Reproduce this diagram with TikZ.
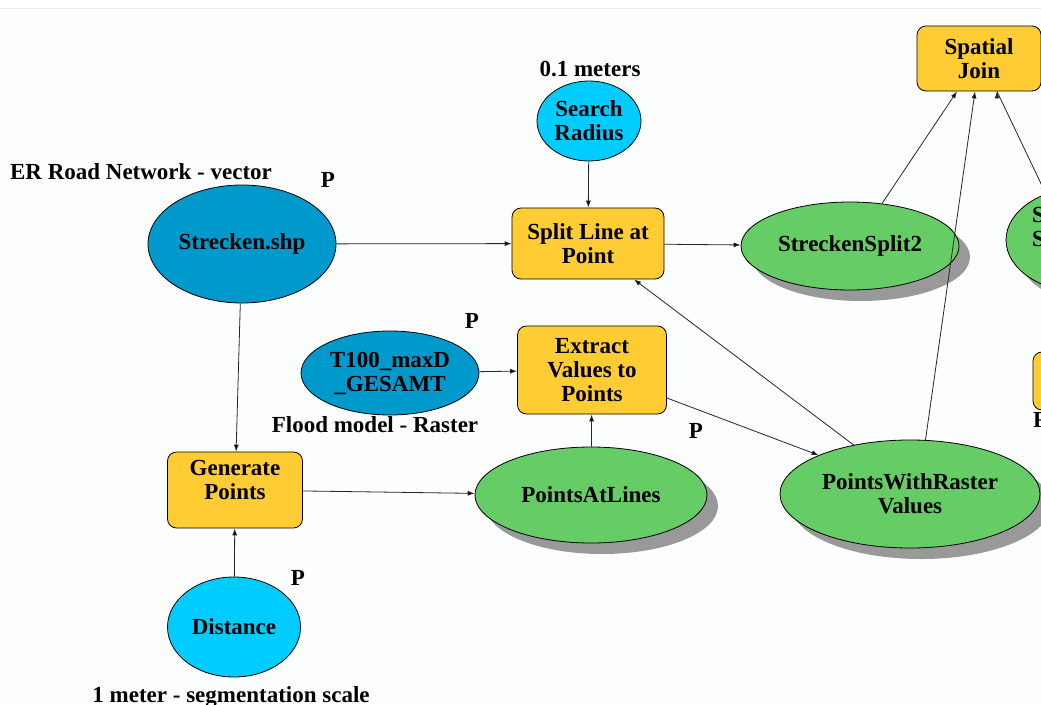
\documentclass[tikz,border=0pt]{standalone}
\usepackage{fontspec}
\setmainfont{Liberation Serif}
\usepackage{tikz}
\usetikzlibrary{positioning,shapes.geometric,shadows,arrows.meta}
\definecolor{toolfill}{RGB}{255,204,51}
\definecolor{datafill}{RGB}{0,153,204}
\definecolor{valuefill}{RGB}{0,204,255}
\definecolor{derivedfill}{RGB}{102,204,102}
\definecolor{shadowgray}{RGB}{153,153,153}
\definecolor{pagefill}{RGB}{252,253,253}
\definecolor{rulegray}{RGB}{230,236,240}
\tikzset{
  modelnode/.style = {draw=black, line width=0.8pt, align=center,
                      inner sep=0pt, font=\bfseries\fontsize{23}{24}\selectfont},
  tool/.style      = {modelnode, shape=rectangle, rounded corners=9pt,
                      fill=toolfill},
  dataset/.style   = {modelnode, shape=ellipse, fill=datafill},
  value/.style     = {modelnode, shape=ellipse, fill=valuefill},
  derived/.style   = {modelnode, shape=ellipse, fill=derivedfill,
                      drop shadow={shadow xshift=11pt, shadow yshift=-11pt,
                                   fill=shadowgray, opacity=1}},
  note/.style      = {inner sep=0pt, anchor=base,
                      font=\bfseries\fontsize{23}{24}\selectfont},
  dims/.style 2 args = {minimum width=#1, minimum height=#2}
}

\begin{document}
\begin{tikzpicture}
  [
    x     = 1pt,
    y     = -1pt,
    >     = {Latex[length=7pt,width=5pt]},
    flow/.style = {draw=black!85, line width=0.8pt, ->}
  ]
  \useasboundingbox (0,0) rectangle (1041,704);
  \clip (0,0) rectangle (1041,704);
  \fill [white] (0,0) rectangle (1041,9);
  \fill [pagefill] (0,9) rectangle (1041,704);
  \draw [rulegray, line width=1.5pt] (0,8.5) -- (1041,8.5);

  % inputs and parameters
  \node [dataset, dims={188pt}{118pt}] (roads)    at (242,244) {Strecken.shp};
  \node [value,   dims={104pt}{80pt}]  (radius)   at (589,121) {Search\\Radius};
  \node [dataset, dims={178pt}{84pt}]  (flood)    at (390,373) {T100\_maxD\\\_GESAMT};
  \node [value,   dims={133pt}{100pt}] (distance) at (234,627) {Distance};

  % tools
  \node [tool, dims={152pt}{71pt}] (split)    at (588,243.5) {Split Line at\\Point};
  \node [tool, dims={149pt}{88pt}] (extract)  at (592,370)   {Extract\\Values to\\Points};
  \node [tool, dims={135pt}{76pt}, text depth=20pt]
                                   (generate) at (235,490)   {Generate\\Points};
  \node [tool, dims={124pt}{65pt}] (join)     at (979,58.5)  {Spatial\\Join};
  \node [tool, dims={134pt}{58pt}] (nexttool) at (1100,381)  {};

  % outputs
  \node [derived, dims={218pt}{88pt}]  (splitout) at (850,246) {StreckenSplit2};
  \node [derived, dims={232pt}{96pt}]  (points)   at (591,495) {PointsAtLines};
  \node [derived, dims={260pt}{108pt}] (values)   at (910,494) {PointsWithRaster\\Values};
  \node [derived, dims={160pt}{106pt}] (joinout)  at (1086,240) {};

  % labels
  \node [note] (roadslabel)    at (141,179) {ER Road Network - vector};
  \node [note] (roadsP)        at (328,187) {P};
  \node [note] (radiuslabel)   at (590,76)  {0.1 meters};
  \node [note] (floodlabel)    at (375,432) {Flood model - Raster};
  \node [note] (floodP)        at (472,328) {P};
  \node [note] (extractP)      at (696,438) {P};
  \node [note] (distanceP)     at (298,585) {P};
  \node [note] (distancelabel) at (231,702) {1 meter - segmentation scale};
  \node [note, anchor=base west] (joinoutS1) at (1032,222) {S};
  \node [note, anchor=base west] (joinoutS2) at (1032,246) {S};
  \node [note, anchor=base west] (nexttoolF) at (1033,427) {F};

  \path [flow]
    (roads)    edge (split)
    (radius)   edge (split)
    (split)    edge (splitout)
    (roads)    edge (generate)
    (distance) edge (generate)
    (generate) edge (points)
    (points)   edge (extract)
    (flood)    edge (extract)
    ([yshift=-28pt]extract.east) edge (values.157)
    (values.139) edge ([xshift=46pt]split.south)
    (splitout.53) edge ([xshift=-22pt]join.south)
    (values.74)   edge ([xshift=-4pt]join.south)
    ([xshift=18pt]join.south) edge (joinout.131);

\end{tikzpicture}
\end{document}
